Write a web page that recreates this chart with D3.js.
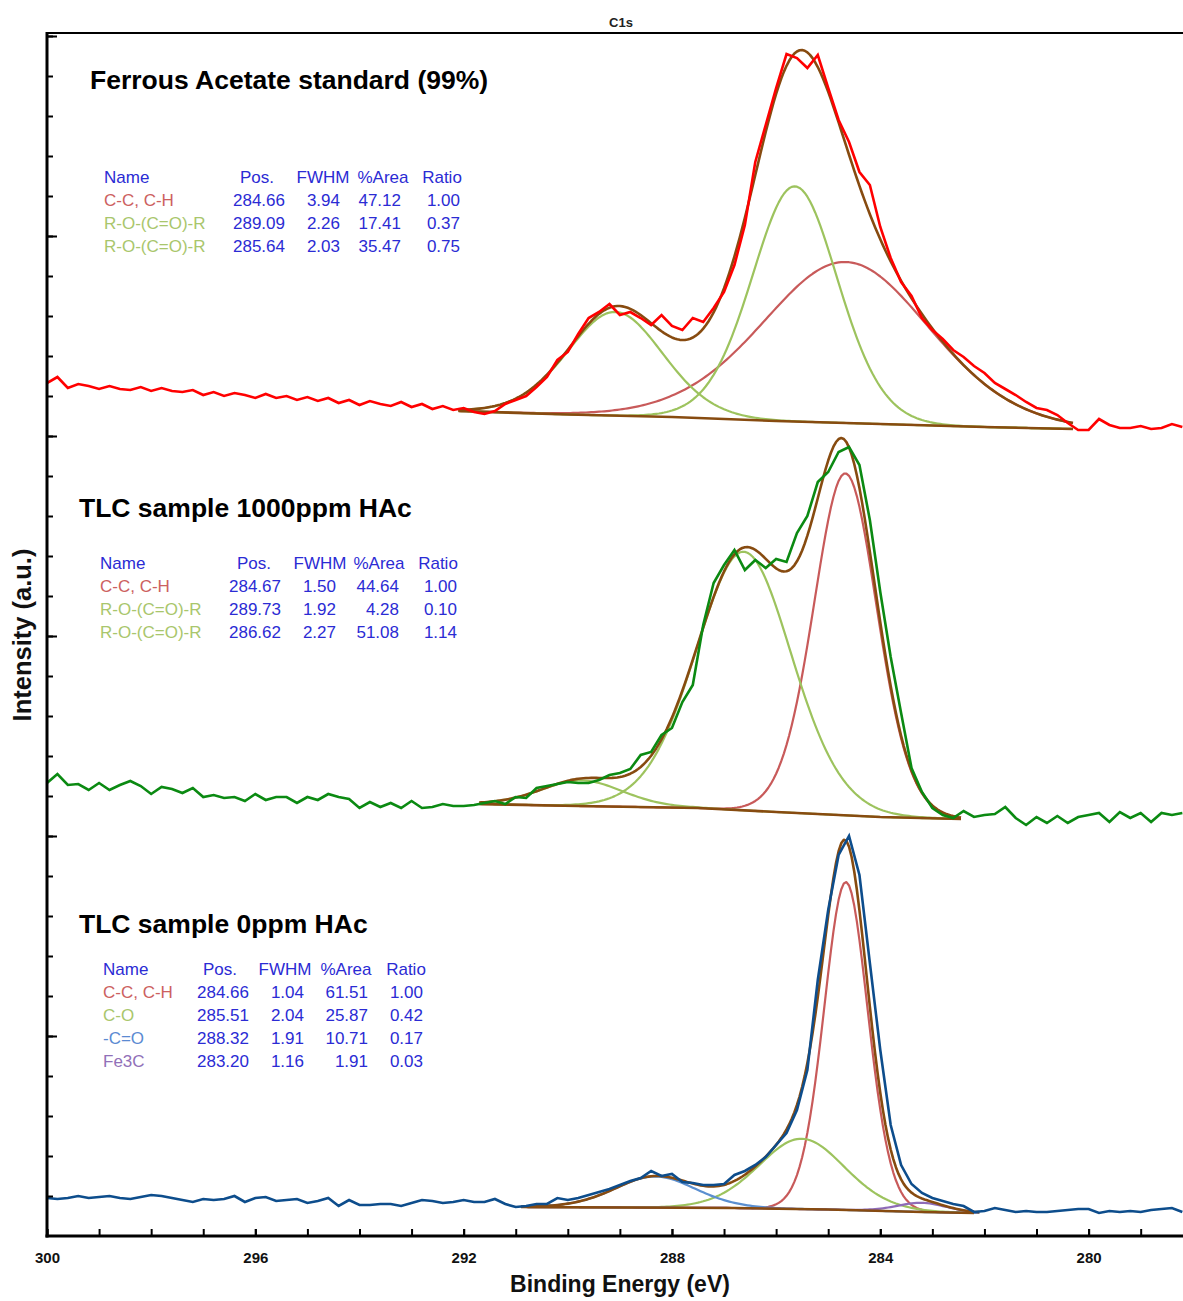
<!DOCTYPE html>
<html>
<head>
<meta charset="utf-8">
<script src="https://cdn.jsdelivr.net/npm/d3@7"></script>
<style>
  html, body { margin: 0; padding: 0; background: #fff; }
  svg { display: block; }
  text { font-family: "Liberation Sans", Arial, Helvetica, sans-serif; }
</style>
</head>
<body>
<svg id="chart" width="1183" height="1301"></svg>
<script>
// ---- energy grid of the recorded spectra (eV) ----
const energyStart = 300;
const energyStep = 0.2;

// ---- recorded C1s spectra, stacked (a.u.) ----
const rawAcetate = [
  85.3,85.9,84.8,85.2,85.0,84.7,85.0,84.7,84.6,84.9,
  84.5,84.8,84.5,84.4,84.6,84.1,84.4,84.0,84.3,84.1,
  83.8,84.2,83.8,84.0,83.6,83.9,83.5,83.8,83.3,83.6,
  83.1,83.5,83.2,83.0,83.4,82.9,83.2,82.7,83.0,82.6,
  82.8,82.4,82.2,82.5,83.2,83.6,84.0,84.9,85.9,87.6,
  88.4,90.2,91.8,92.4,93.2,92.1,92.4,91.8,91.1,92.1,
  91.0,90.6,91.8,91.4,92.8,94.4,97.1,101.1,107.4,111.1,
  114.8,118.2,117.8,116.8,118.1,114.8,111.6,109.4,106.4,105.1,
  100.9,97.8,95.4,94.0,91.8,90.6,89.7,88.6,87.9,87.0,
  86.3,85.3,84.7,84.1,83.4,82.8,82.6,82.1,81.3,80.6,
  80.6,81.7,81.1,80.8,80.8,81.0,80.7,80.8,81.2,80.9
];
const raw1000 = [
  45.3,46.2,45.1,45.2,44.6,45.3,44.6,45.1,45.5,45.0,
  44.2,44.9,44.7,44.3,44.8,43.9,44.1,43.8,43.9,43.5,
  44.2,43.6,43.9,43.9,43.3,43.9,43.6,44.2,43.9,43.7,
  42.8,43.4,42.9,43.3,42.8,43.5,42.8,42.9,43.2,43.0,
  43.0,43.1,43.3,43.5,43.2,43.9,43.8,44.8,45.0,45.2,
  45.4,45.3,45.3,45.6,46.1,46.3,46.7,48.1,48.4,50.1,
  50.8,53.4,55.1,61.1,65.3,67.1,68.6,66.6,67.6,66.8,
  67.7,67.4,70.3,72.0,75.4,76.4,78.4,78.9,77.1,71.6,
  64.4,57.9,52.3,46.8,44.4,42.8,42.1,41.8,42.5,41.9,
  42.1,42.2,42.9,41.8,41.1,41.9,41.3,42.0,41.3,41.9,
  42.1,42.3,41.4,42.4,41.8,42.3,41.4,42.3,42.1,42.3
];
const raw0 = [
  3.8,3.7,3.8,4.0,3.8,3.9,4.0,3.8,3.7,3.9,
  4.1,4.0,3.8,3.6,3.4,3.7,3.6,3.7,4.0,3.4,
  3.8,3.9,3.5,3.6,3.7,3.3,3.5,3.8,3.0,3.6,
  3.1,3.1,3.2,3.2,3.0,3.3,3.6,3.5,3.3,3.4,
  3.6,3.4,3.4,3.7,3.2,2.9,3.0,3.2,3.2,3.8,
  3.6,3.8,4.1,4.4,4.7,5.1,5.5,5.8,6.5,6.0,
  6.2,5.4,5.3,5.1,5.1,5.2,6.1,6.5,7.1,7.9,
  9.1,10.3,12.6,16.6,25.6,32.6,38.1,40.0,36.1,27.3,
  18.6,11.1,7.1,5.2,4.3,3.8,3.5,3.2,3.0,2.4,
  2.5,2.8,2.6,2.4,2.5,2.4,2.4,2.5,2.6,2.7,
  2.7,2.3,2.5,2.4,2.5,2.4,2.6,2.7,2.8,2.4
];

// ---- peak tables ----
const acetateNames = ["C-C, C-H", "R-O-(C=O)-R", "R-O-(C=O)-R"];
const acetatePos   = [284.66, 289.09, 285.64];
const acetateFWHM  = [3.94, 2.26, 2.03];
const acetateArea  = [47.12, 17.41, 35.47];
const acetateRatio = [1.00, 0.37, 0.75];

const tlc1000Names = ["C-C, C-H", "R-O-(C=O)-R", "R-O-(C=O)-R"];
const tlc1000Pos   = [284.67, 289.73, 286.62];
const tlc1000FWHM  = [1.50, 1.92, 2.27];
const tlc1000Area  = [44.64, 4.28, 51.08];
const tlc1000Ratio = [1.00, 0.10, 1.14];

const tlc0Names = ["C-C, C-H", "C-O", "-C=O", "Fe3C"];
const tlc0Pos   = [284.66, 285.51, 288.32, 283.20];
const tlc0FWHM  = [1.04, 2.04, 1.91, 1.16];
const tlc0Area  = [61.51, 25.87, 10.71, 1.91];
const tlc0Ratio = [1.00, 0.42, 0.17, 0.03];

// height of the first (C-C, C-H) component above background (a.u.)
const acetateMainHeight = 16.1;
const tlc1000MainHeight = 34.2;
const tlc0MainHeight = 32.8;

// fit regions [high BE, low BE]
const acetateRegion = [292.1, 280.3];
const tlc1000Region = [291.7, 282.45];
const tlc0Region = [290.9, 282.1];

// Shirley-type backgrounds as [BE, intensity] vertices
const acetateBackground = [[292.1,82.5],[290,82.15],[288,81.9],[286,81.5],[284,81.2],[282,80.9],[280.3,80.7]];
const tlc1000Background = [[291.7,43.2],[289.8,43.0],[287.5,42.8],[286.0,42.4],[284.0,41.9],[282.45,41.7]];
const tlc0Background = [[290.9,2.9],[286.8,2.8],[285.0,2.65],[283.2,2.4],[282.2,2.3]];

// axis ticks
const majorEnergyTicks = [300, 296, 292, 288, 284, 280];
const minorEnergyTicks = d3.range(279, 301);

// ---- colours ----
const colCC = "#c85a5a", colRO = "#9dc35e", colCO = "#5b8fd0", colFe = "#8e6bb8";
const nameCC = "#cc6060", nameRO = "#a9c66c", nameCO = "#5b8ad2", nameFe = "#9170b8";
const envColor = "#874b10";
const tableBlue = "#2b2bd4";

const panels = [
  { title: "Ferrous Acetate standard (99%)", titleX: 90, titleY: 89,
    raw: rawAcetate, rawColor: "#ff0000",
    names: acetateNames, pos: acetatePos, fwhm: acetateFWHM, area: acetateArea, ratio: acetateRatio,
    mainHeight: acetateMainHeight, region: acetateRegion, background: acetateBackground,
    lineColors: [colCC, colRO, colRO], nameColors: [nameCC, nameRO, nameRO],
    table: { nameX: 104, headY: 183, pos: [257, 285], fwhm: [323, 340], area: [383, 401], ratio: [442, 460] } },
  { title: "TLC sample 1000ppm HAc", titleX: 79, titleY: 517,
    raw: raw1000, rawColor: "#0b8a12",
    names: tlc1000Names, pos: tlc1000Pos, fwhm: tlc1000FWHM, area: tlc1000Area, ratio: tlc1000Ratio,
    mainHeight: tlc1000MainHeight, region: tlc1000Region, background: tlc1000Background,
    lineColors: [colCC, colRO, colRO], nameColors: [nameCC, nameRO, nameRO],
    table: { nameX: 100, headY: 569, pos: [254, 281], fwhm: [320, 336], area: [379, 399], ratio: [438, 457] } },
  { title: "TLC sample 0ppm HAc", titleX: 79, titleY: 933,
    raw: raw0, rawColor: "#0d4d8c",
    names: tlc0Names, pos: tlc0Pos, fwhm: tlc0FWHM, area: tlc0Area, ratio: tlc0Ratio,
    mainHeight: tlc0MainHeight, region: tlc0Region, background: tlc0Background,
    lineColors: [colCC, colRO, colCO, colFe], nameColors: [nameCC, nameRO, nameCO, nameFe],
    table: { nameX: 103, headY: 975, pos: [220, 249], fwhm: [285, 304], area: [346, 368], ratio: [406, 423] } }
];

// ---- scales ----
const plotLeft = 47, plotRight = 1183, plotTop = 33, plotBottom = 1236;
const x = d3.scaleLinear().domain([300, 300 - (plotRight - plotLeft) / 52.08]).range([plotLeft, plotRight]);
const y = d3.scaleLinear().domain([0, 120.3]).range([plotBottom, plotTop]);

const svg = d3.select("#chart");

svg.append("defs").append("clipPath").attr("id", "plotClip")
  .append("rect").attr("x", plotLeft).attr("y", plotTop)
  .attr("width", plotRight - plotLeft).attr("height", plotBottom - plotTop);

// Gaussian-Lorentzian product line shape, GL(30)
function glShape(be, center, fwhm, height) {
  const m = 0.3;
  const t = (be - center) * (be - center) / (fwhm * fwhm);
  return height * Math.exp(-4 * Math.LN2 * (1 - m) * t) / (1 + 4 * m * t);
}

const plot = svg.append("g").attr("clip-path", "url(#plotClip)");
const line = d3.line().x(d => x(d[0])).y(d => y(d[1]));

panels.forEach(p => {
  const bg = d3.scaleLinear().domain(p.background.map(d => d[0])).range(p.background.map(d => d[1])).clamp(true);
  const unit = p.area[0] / p.fwhm[0];
  const heights = p.area.map((a, i) => p.mainHeight * (a / p.fwhm[i]) / unit);
  const grid = d3.range(p.region[0], p.region[1] - 1e-9, -0.05);

  // components
  p.pos.forEach((c, i) => {
    const pts = grid.map(be => [be, bg(be) + glShape(be, c, p.fwhm[i], heights[i])]);
    plot.append("path").attr("d", line(pts)).attr("fill", "none")
      .attr("stroke", p.lineColors[i]).attr("stroke-width", 2.2).attr("stroke-linejoin", "round");
  });

  // background
  plot.append("path").attr("d", line(p.background)).attr("fill", "none")
    .attr("stroke", envColor).attr("stroke-width", 2.6);

  // envelope
  const env = grid.map(be => [be, bg(be) + d3.sum(p.pos, (c, i) => glShape(be, c, p.fwhm[i], heights[i]))]);
  plot.append("path").attr("d", line(env)).attr("fill", "none")
    .attr("stroke", envColor).attr("stroke-width", 2.6).attr("stroke-linejoin", "round");

  // recorded spectrum
  const rawPts = p.raw.map((v, i) => [energyStart - i * energyStep, v]);
  plot.append("path").attr("d", line(rawPts)).attr("fill", "none")
    .attr("stroke", p.rawColor).attr("stroke-width", 2.6).attr("stroke-linejoin", "miter");

  // title
  svg.append("text").attr("x", p.titleX).attr("y", p.titleY)
    .attr("font-size", 26.5).attr("font-weight", "bold").attr("fill", "#000").text(p.title);

  // peak table
  const t = p.table;
  const g = svg.append("g").attr("font-size", 17).attr("fill", tableBlue);
  g.append("text").attr("x", t.nameX).attr("y", t.headY).text("Name");
  const heads = [["Pos.", t.pos], ["FWHM", t.fwhm], ["%Area", t.area], ["Ratio", t.ratio]];
  heads.forEach(h => g.append("text").attr("x", h[1][0]).attr("y", t.headY).attr("text-anchor", "middle").text(h[0]));
  p.names.forEach((n, i) => {
    const ry = t.headY + 23 * (i + 1);
    g.append("text").attr("x", t.nameX).attr("y", ry).attr("fill", p.nameColors[i]).text(n);
    const vals = [p.pos[i], p.fwhm[i], p.area[i], p.ratio[i]];
    vals.forEach((v, k) => g.append("text").attr("x", heads[k][1][1]).attr("y", ry)
      .attr("text-anchor", "end").text(v.toFixed(2)));
  });
});

// ---- axes ----
const xMinor = d3.axisBottom(x).tickValues(minorEnergyTicks).tickSize(-7).tickFormat("");
const xMajor = d3.axisBottom(x).tickValues(majorEnergyTicks).tickSize(-7).tickPadding(16).tickFormat(d3.format("d"));
svg.append("g").attr("transform", `translate(0,${plotBottom})`).call(xMinor)
  .call(g => g.select(".domain").remove())
  .call(g => g.selectAll(".tick line").attr("stroke", "#000").attr("stroke-width", 2));
svg.append("g").attr("transform", `translate(0,${plotBottom})`).call(xMajor)
  .call(g => g.select(".domain").remove())
  .call(g => g.selectAll(".tick line").attr("stroke", "#000").attr("stroke-width", 2))
  .call(g => g.selectAll(".tick text").attr("font-size", 15).attr("font-weight", "bold")
    .attr("fill", "#111").attr("font-family", "'Liberation Sans', Arial, sans-serif"));

const yMinorTicks = d3.range(4, 120.3, 4);
const yMajorTicks = d3.range(20, 120.3, 20);
svg.append("g").attr("transform", `translate(${plotLeft},0)`)
  .call(d3.axisLeft(y).tickValues(yMinorTicks).tickSize(-6).tickFormat(""))
  .call(g => g.select(".domain").remove())
  .call(g => g.selectAll(".tick line").attr("stroke", "#000").attr("stroke-width", 2));
svg.append("g").attr("transform", `translate(${plotLeft},0)`)
  .call(d3.axisLeft(y).tickValues(yMajorTicks).tickSize(-10).tickFormat(""))
  .call(g => g.select(".domain").remove())
  .call(g => g.selectAll(".tick line").attr("stroke", "#000").attr("stroke-width", 2));

// frame: left, bottom, top
svg.append("line").attr("x1", plotLeft).attr("x2", plotLeft).attr("y1", plotTop - 1).attr("y2", plotBottom + 1.5)
  .attr("stroke", "#000").attr("stroke-width", 3);
svg.append("line").attr("x1", plotLeft - 1.5).attr("x2", plotRight).attr("y1", plotBottom).attr("y2", plotBottom)
  .attr("stroke", "#000").attr("stroke-width", 3);
svg.append("line").attr("x1", plotLeft).attr("x2", plotRight).attr("y1", plotTop).attr("y2", plotTop)
  .attr("stroke", "#000").attr("stroke-width", 2);

// titles and axis labels
svg.append("text").attr("x", 621).attr("y", 27).attr("text-anchor", "middle")
  .attr("font-size", 13).attr("font-weight", "bold").attr("fill", "#222").text("C1s");
svg.append("text").attr("x", 620).attr("y", 1292).attr("text-anchor", "middle")
  .attr("font-size", 23).attr("font-weight", "bold").attr("fill", "#111").text("Binding Energy (eV)");
svg.append("text").attr("transform", "translate(31,635) rotate(-90)").attr("text-anchor", "middle")
  .attr("font-size", 25.5).attr("font-weight", "bold").attr("fill", "#111").text("Intensity (a.u.)");
</script>
</body>
</html>
